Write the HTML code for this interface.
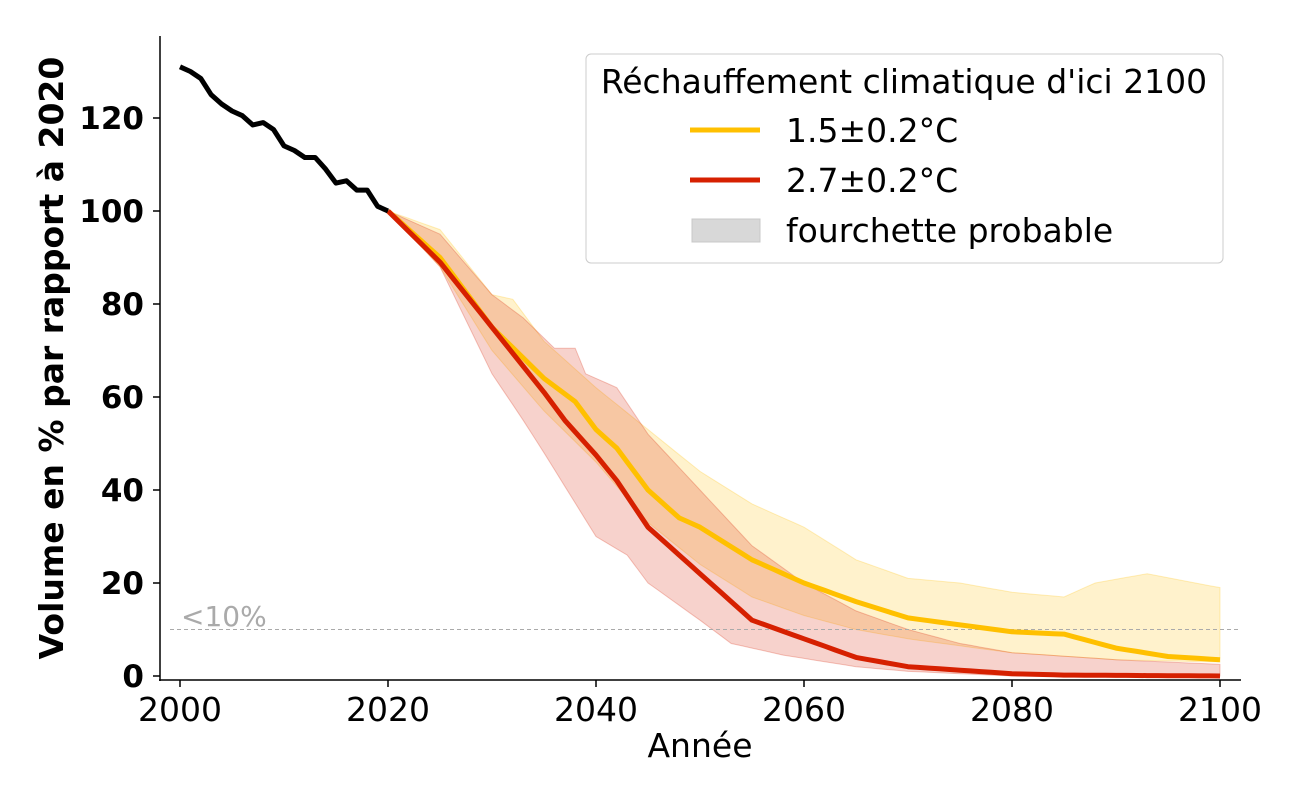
<!DOCTYPE html>
<html><head><meta charset="utf-8"><style>
html,body{margin:0;padding:0;background:#fff;}
svg{display:block;font-family:"DejaVu Sans","Liberation Sans",sans-serif;}
</style></head><body>
<svg id="s" width="1300" height="800" viewBox="0 0 1300 800" xmlns="http://www.w3.org/2000/svg">
<g id="plot"></g>
<line x1="160" y1="36" x2="160" y2="681" stroke="#000" stroke-width="1.5"/>
<line x1="159" y1="680" x2="1241" y2="680" stroke="#000" stroke-width="1.5"/>
<g font-size="31" font-weight="bold" text-anchor="end" fill="#000">
<text x="144" y="687">0</text><text x="144" y="594">20</text><text x="144" y="501">40</text>
<text x="144" y="408">60</text><text x="144" y="315">80</text><text x="144" y="222">100</text><text x="144" y="129">120</text>
</g>
<g stroke="#000" stroke-width="1.5">
<line x1="153" y1="676" x2="160" y2="676"/><line x1="153" y1="583" x2="160" y2="583"/><line x1="153" y1="490" x2="160" y2="490"/>
<line x1="153" y1="397" x2="160" y2="397"/><line x1="153" y1="304" x2="160" y2="304"/><line x1="153" y1="211" x2="160" y2="211"/><line x1="153" y1="118" x2="160" y2="118"/>
<line x1="180" y1="680" x2="180" y2="687"/><line x1="388" y1="680" x2="388" y2="687"/><line x1="596" y1="680" x2="596" y2="687"/>
<line x1="804" y1="680" x2="804" y2="687"/><line x1="1012" y1="680" x2="1012" y2="687"/><line x1="1220" y1="680" x2="1220" y2="687"/>
</g>
<g font-size="33" text-anchor="middle" fill="#000">
<text x="180" y="721">2000</text><text x="388" y="721">2020</text><text x="596" y="721">2040</text>
<text x="804" y="721">2060</text><text x="1012" y="721">2080</text><text x="1220" y="721">2100</text>
<text x="700" y="757">Année</text>
</g>
<text transform="translate(63,358) rotate(-90)" font-size="33" font-weight="bold" text-anchor="middle">Volume en % par rapport à 2020</text>
<rect x="586" y="54" width="637" height="209" rx="5" fill="#fff" fill-opacity="0.8" stroke="#ccc"/>
<text x="904" y="93" font-size="33" text-anchor="middle">Réchauffement climatique d'ici 2100</text>
<line x1="690" y1="130" x2="760" y2="130" stroke="#FFC000" stroke-width="5"/>
<line x1="690" y1="180" x2="760" y2="180" stroke="#D62000" stroke-width="5"/>
<rect x="692" y="219" width="68" height="23" fill="#d8d8d8" stroke="#c8c8c8"/>
<g font-size="33"><text x="786" y="142">1.5±0.2°C</text><text x="786" y="192">2.7±0.2°C</text><text x="786" y="242">fourchette probable</text></g>
</svg>
<script>
function X(y){return 180+(y-2000)*10.4}function Y(v){return 676-v*4.65}
function interp(k,yr){for(var i=0;i<k.length-1;i++){if(yr>=k[i][0]&&yr<=k[i+1][0]){var t=(yr-k[i][0])/(k[i+1][0]-k[i][0]);return k[i][1]+t*(k[i+1][1]-k[i][1]);}}return k[k.length-1][1];}
function pts(k,a,b){var p=[];for(var y=a;y<=b;y++)p.push(X(y).toFixed(1)+","+Y(interp(k,y)).toFixed(1));return p;}
var yU=[[2020,100],[2025,96],[2030,82],[2032,81],[2035,72],[2040,62],[2045,53],[2050,44],[2055,37],[2060,32],[2065,25],[2070,21],[2075,20],[2080,18],[2085,17],[2088,20],[2093,22],[2100,19]];
var yL=[[2020,100],[2025,88],[2030,70],[2035,57],[2040,46],[2045,33],[2050,24],[2055,17],[2060,13],[2065,10],[2070,8],[2080,5],[2090,3.5],[2100,3]];
var rU=[[2020,100],[2025,95],[2030,82],[2033,77],[2036,70.5],[2038,70.5],[2039,65],[2042,62],[2045,52],[2050,40],[2055,28],[2060,20],[2065,14],[2070,10],[2075,7],[2080,5],[2090,3.5],[2100,2.5]];
var rL=[[2020,100],[2025,88],[2030,65],[2033,55],[2035,48],[2040,30],[2043,26],[2045,20],[2050,12],[2053,7],[2058,4.5],[2065,2],[2070,1],[2080,0],[2100,0]];
var ym=[[2020,100],[2025,90],[2030,75],[2035,64],[2038,59],[2040,53],[2042,49],[2045,40],[2048,34],[2050,32],[2055,25],[2060,20],[2065,16],[2070,12.5],[2075,11],[2080,9.5],[2085,9],[2090,6],[2095,4.2],[2100,3.5]];
var rm=[[2020,100],[2025,89],[2030,75],[2035,61],[2037,55],[2040,47.5],[2042,42],[2045,32],[2050,22],[2055,12],[2060,8],[2065,4],[2070,2],[2080,0.5],[2085,0.2],[2100,0]];
var blk=[131,130,128.5,125,123,121.5,120.5,118.5,119,117.5,114,113,111.5,111.5,109,106,106.5,104.5,104.5,101,100];
var g=document.getElementById('plot'),h='';
function band(u,l,c){var a=pts(u,2020,2100),b=pts(l,2020,2100).reverse();return '<polygon points="'+a.concat(b).join(' ')+'" fill="'+c+'" fill-opacity="0.2" stroke="'+c+'" stroke-opacity="0.25"/>';}
h+=band(yU,yL,'#FFC000');h+=band(rU,rL,'#D62000');
h+='<line x1="170" y1="629.5" x2="1240" y2="629.5" stroke="#aaa" stroke-width="1" stroke-dasharray="4,3"/>';
h+='<text x="181" y="626" font-size="28" fill="#aaa">&lt;10%</text>';
h+='<polyline points="'+pts(ym,2020,2100).join(' ')+'" fill="none" stroke="#FFC000" stroke-width="5" stroke-linejoin="round"/>';
h+='<polyline points="'+pts(rm,2020,2100).join(' ')+'" fill="none" stroke="#D62000" stroke-width="5" stroke-linejoin="round"/>';
var bp=blk.map(function(v,i){return X(2000+i).toFixed(1)+","+Y(v).toFixed(1)});
h+='<polyline points="'+bp.join(' ')+'" fill="none" stroke="#000" stroke-width="5" stroke-linejoin="round"/>';
g.innerHTML=h;
</script>
</body></html>
